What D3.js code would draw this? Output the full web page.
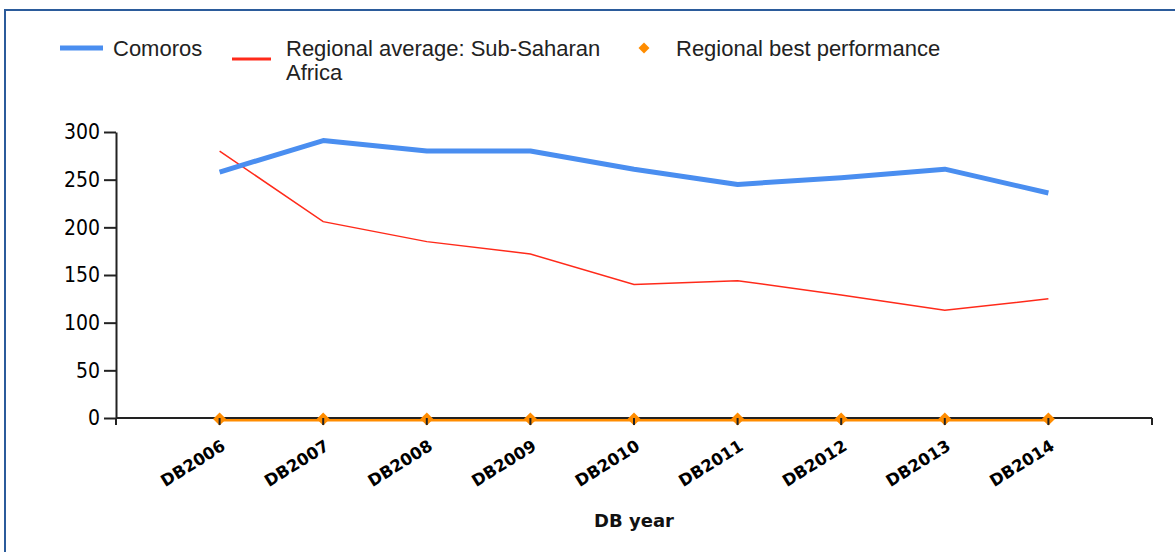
<!DOCTYPE html>
<html>
<head>
<meta charset="utf-8">
<script src="https://cdn.jsdelivr.net/npm/d3@7"></script>
<style>
  body { margin: 0; background: #fff; }
  svg { display: block; }
</style>
</head>
<body>
<div id="chart"></div>
<script>
"use strict";

// values
var years = ["DB2006", "DB2007", "DB2008", "DB2009", "DB2010", "DB2011", "DB2012", "DB2013", "DB2014"];
var comoros = [258, 291, 280, 280, 261, 245, 252, 261, 236];
var regionalAvg = [280, 206, 185, 172, 140, 144, 129, 113, 125];
var regionalBest = [0, 0, 0, 0, 0, 0, 0, 0, 0];
var yTicks = [0, 50, 100, 150, 200, 250, 300];

var width = 1175, height = 552;
var margin = {top: 132, left: 116, right: 23, bottom: 134};

var svg = d3.select("#chart").append("svg")
    .attr("width", width)
    .attr("height", height);

// frame (only top and left edges show)
svg.append("rect")
    .attr("x", 5).attr("y", 10)
    .attr("width", width + 20).attr("height", height + 20)
    .attr("fill", "none")
    .attr("stroke", "#2b5b9b")
    .attr("stroke-width", 2);

var x = d3.scalePoint()
    .domain(years)
    .range([margin.left, width - margin.right])
    .padding(1);

var y = d3.scaleLinear()
    .domain([0, 300])
    .range([height - margin.bottom, margin.top]);

var y0 = y(0);

// y axis
var yAxis = svg.append("g")
    .attr("transform", "translate(" + margin.left + ",0)")
    .call(d3.axisLeft(y).tickValues(yTicks).tickSize(12).tickPadding(4).tickSizeOuter(0));
yAxis.select(".domain").attr("stroke", "#222").attr("stroke-width", 2);
yAxis.selectAll(".tick line").attr("stroke", "#222").attr("stroke-width", 2);
yAxis.selectAll("text")
    .attr("fill", "#000")
    .style("font-family", "'DejaVu Sans Condensed', 'DejaVu Sans', sans-serif")
    .style("font-size", "21px");

// regional best line, just under the x axis
svg.append("path")
    .datum(regionalBest)
    .attr("fill", "none")
    .attr("stroke", "#ff8c00")
    .attr("stroke-width", 3)
    .attr("transform", "translate(0,2)")
    .attr("d", d3.line().x(function(d, i) { return x(years[i]); }).y(function(d) { return y(d); }));

// x axis
var xAxis = svg.append("g")
    .attr("transform", "translate(0," + y0 + ")");
xAxis.append("line")
    .attr("x1", margin.left).attr("x2", width - margin.right)
    .attr("y1", 0).attr("y2", 0)
    .attr("stroke", "#222").attr("stroke-width", 2);
xAxis.selectAll("line.tk")
    .data([margin.left, width - margin.right])
    .enter().append("line")
    .attr("class", "tk")
    .attr("x1", function(d) { return d; }).attr("x2", function(d) { return d; })
    .attr("y1", 0).attr("y2", 7)
    .attr("stroke", "#222").attr("stroke-width", 2);

// diamonds for regional best
var diamond = d3.symbol().type(d3.symbolSquare).size(85);
svg.selectAll("path.best")
    .data(regionalBest)
    .enter().append("path")
    .attr("class", "best")
    .attr("d", diamond)
    .attr("transform", function(d, i) { return "translate(" + x(years[i]) + "," + (y(d) + 1) + ") rotate(45)"; })
    .attr("fill", "#ff8c00");

// tick stubs over the diamonds
svg.selectAll("line.tk2")
    .data(years)
    .enter().append("line")
    .attr("x1", function(d) { return x(d); }).attr("x2", function(d) { return x(d); })
    .attr("y1", y0).attr("y2", y0 + 7)
    .attr("stroke", "#222").attr("stroke-width", 2);

xAxis.selectAll("text.lbl")
    .data(years)
    .enter().append("text")
    .attr("class", "lbl")
    .attr("transform", function(d) { return "translate(" + (x(d) + 7) + ",31) rotate(-32)"; })
    .attr("text-anchor", "end")
    .attr("fill", "#000")
    .style("font-family", "'DejaVu Sans', sans-serif")
    .style("font-weight", "bold")
    .style("font-size", "16.5px")
    .text(function(d) { return d; });

svg.append("text")
    .attr("x", (margin.left + width - margin.right) / 2)
    .attr("y", 527)
    .attr("text-anchor", "middle")
    .attr("fill", "#111")
    .style("font-family", "'DejaVu Sans', sans-serif")
    .style("font-weight", "bold")
    .style("font-size", "18px")
    .text("DB year");

// series lines
var line = d3.line()
    .x(function(d, i) { return x(years[i]); })
    .y(function(d) { return y(d); });

svg.append("path")
    .datum(regionalAvg)
    .attr("fill", "none")
    .attr("stroke", "#ff2a1a")
    .attr("stroke-width", 1.5)
    .attr("d", line);

svg.append("path")
    .datum(comoros)
    .attr("fill", "none")
    .attr("stroke", "#4a8ef0")
    .attr("stroke-width", 5)
    .attr("stroke-linejoin", "round")
    .attr("d", line);

// legend
var legFont = "'Liberation Sans', Arial, sans-serif";
var legend = svg.append("g");
legend.append("line")
    .attr("x1", 60).attr("x2", 103).attr("y1", 48).attr("y2", 48)
    .attr("stroke", "#4a8ef0").attr("stroke-width", 5);
legend.append("text")
    .attr("x", 113).attr("y", 56)
    .attr("fill", "#222")
    .style("font-family", legFont).style("font-size", "22px")
    .text("Comoros");

legend.append("line")
    .attr("x1", 232).attr("x2", 271).attr("y1", 59).attr("y2", 59)
    .attr("stroke", "#ff2a1a").attr("stroke-width", 3);
var t2 = legend.append("text")
    .attr("fill", "#222")
    .style("font-family", legFont).style("font-size", "22px");
t2.append("tspan").attr("x", 286).attr("y", 56).text("Regional average: Sub-Saharan");
t2.append("tspan").attr("x", 286).attr("y", 80).text("Africa");

legend.append("path")
    .attr("d", d3.symbol().type(d3.symbolSquare).size(60))
    .attr("transform", "translate(644,48) rotate(45)")
    .attr("fill", "#ff8c00");
legend.append("text")
    .attr("x", 676).attr("y", 56)
    .attr("fill", "#222")
    .style("font-family", legFont).style("font-size", "22px")
    .text("Regional best performance");
</script>
</body>
</html>
